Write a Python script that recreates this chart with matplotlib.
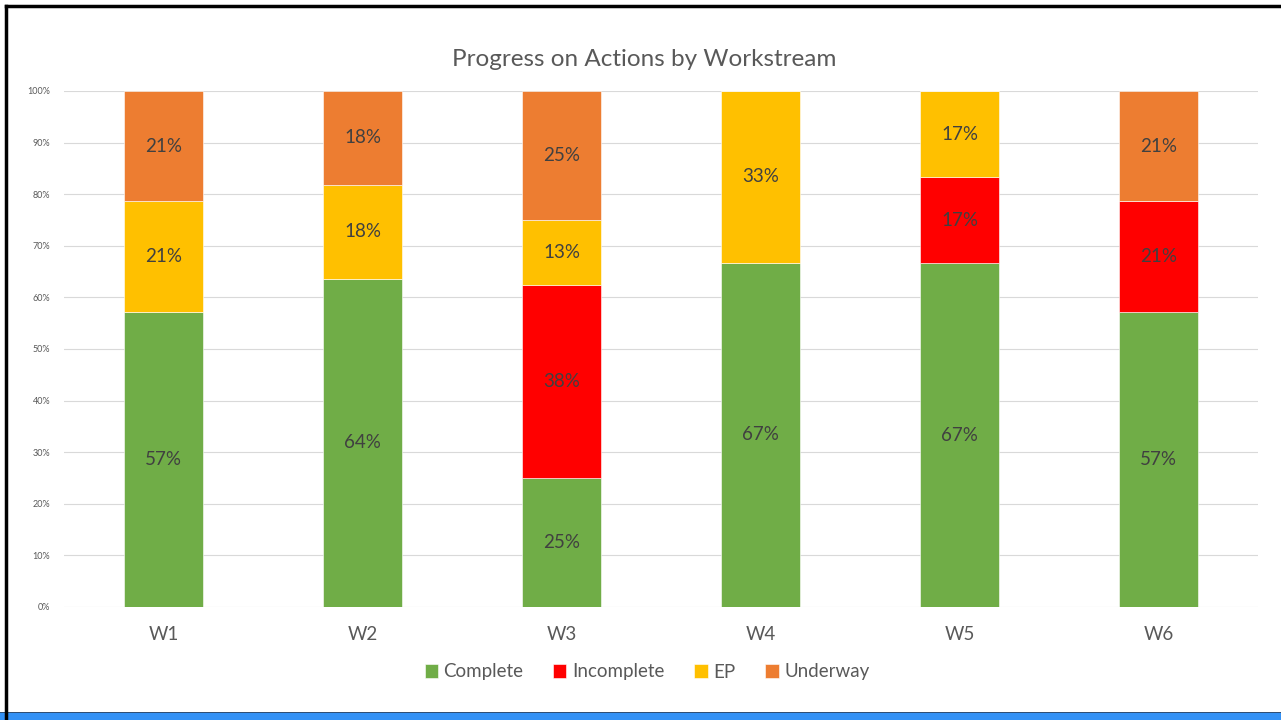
import matplotlib.pyplot as plt
import numpy as np
from matplotlib.patches import Rectangle

plt.rcParams['font.family'] = ['Lato', 'DejaVu Sans']

workstreams = ['W1', 'W2', 'W3', 'W4', 'W5', 'W6']
complete = [57.2, 63.6, 25.0, 66.7, 66.6, 57.2]
incomplete = [0.0, 0.0, 37.5, 0.0, 16.7, 21.4]
ep = [21.4, 18.2, 12.5, 33.3, 16.7, 0.0]
underway = [21.4, 18.2, 25.0, 0.0, 0.0, 21.4]

series = [('Complete', complete, '#70AD47'),
          ('Incomplete', incomplete, '#FF0000'),
          ('EP', ep, '#FFC000'),
          ('Underway', underway, '#ED7D31')]

fig = plt.figure(figsize=(12.81, 7.2), dpi=100)
ax = fig.add_axes([64 / 1281, 1 - 607 / 720, 1194 / 1281, 516 / 720])

x = np.arange(len(workstreams))
bottom = np.zeros(len(workstreams))
for name, vals, color in series:
    vals = np.array(vals)
    ax.bar(x, vals, 0.4, bottom=bottom, color=color, label=name,
           edgecolor='white', linewidth=0.4, zorder=2)
    for xi, b, v in zip(x, bottom, vals):
        if v > 0:
            ax.text(xi, b + v / 2, f"{int(v + 0.5)}%", ha='center', va='center',
                    fontsize=13.5, color='#404040', zorder=3)
    bottom += vals

ax.set_xlim(-0.5, 5.5)
ax.set_ylim(0, 100)
ax.set_yticks(np.arange(0, 101, 10))
ax.set_yticklabels([f"{v}%" for v in range(0, 101, 10)])
ax.set_xticks(x)
ax.set_xticklabels(workstreams)
ax.tick_params(axis='y', labelsize=6.5, colors='#595959', length=0, pad=10)
ax.tick_params(axis='x', labelsize=13.5, colors='#595959', length=0, pad=14)
ax.grid(axis='y', color='#D9D9D9', linewidth=0.8, zorder=0)
for s in ax.spines.values():
    s.set_visible(False)

fig.text(644 / 1281, 1 - 59 / 720, 'Progress on Actions by Workstream',
         ha='center', va='center', fontsize=17.5, color='#595959')

leg = fig.legend(loc='center', bbox_to_anchor=(647 / 1281, 1 - 672 / 720),
                 ncol=4, frameon=False, fontsize=13.5, handlelength=0.7,
                 handleheight=0.7, handletextpad=0.3, columnspacing=1.6)
for t in leg.get_texts():
    t.set_color('#595959')

# frame and bottom band
fig.add_artist(plt.Line2D([6 / 1281, 6 / 1281], [0, 1 - 6 / 720], color='black', linewidth=2.5,
                          transform=fig.transFigure))
fig.add_artist(plt.Line2D([6 / 1281, 1], [1 - 6 / 720, 1 - 6 / 720], color='black', linewidth=2.5,
                          transform=fig.transFigure))
fig.add_artist(Rectangle((0, 0), 1, 8 / 720, transform=fig.transFigure,
                         facecolor='#3391F5', edgecolor='none'))
fig.add_artist(Rectangle((0, 7 / 720), 1, 1.5 / 720, transform=fig.transFigure,
                         facecolor='#2F4F75', edgecolor='none'))

fig.savefig('out.png', dpi=100)
